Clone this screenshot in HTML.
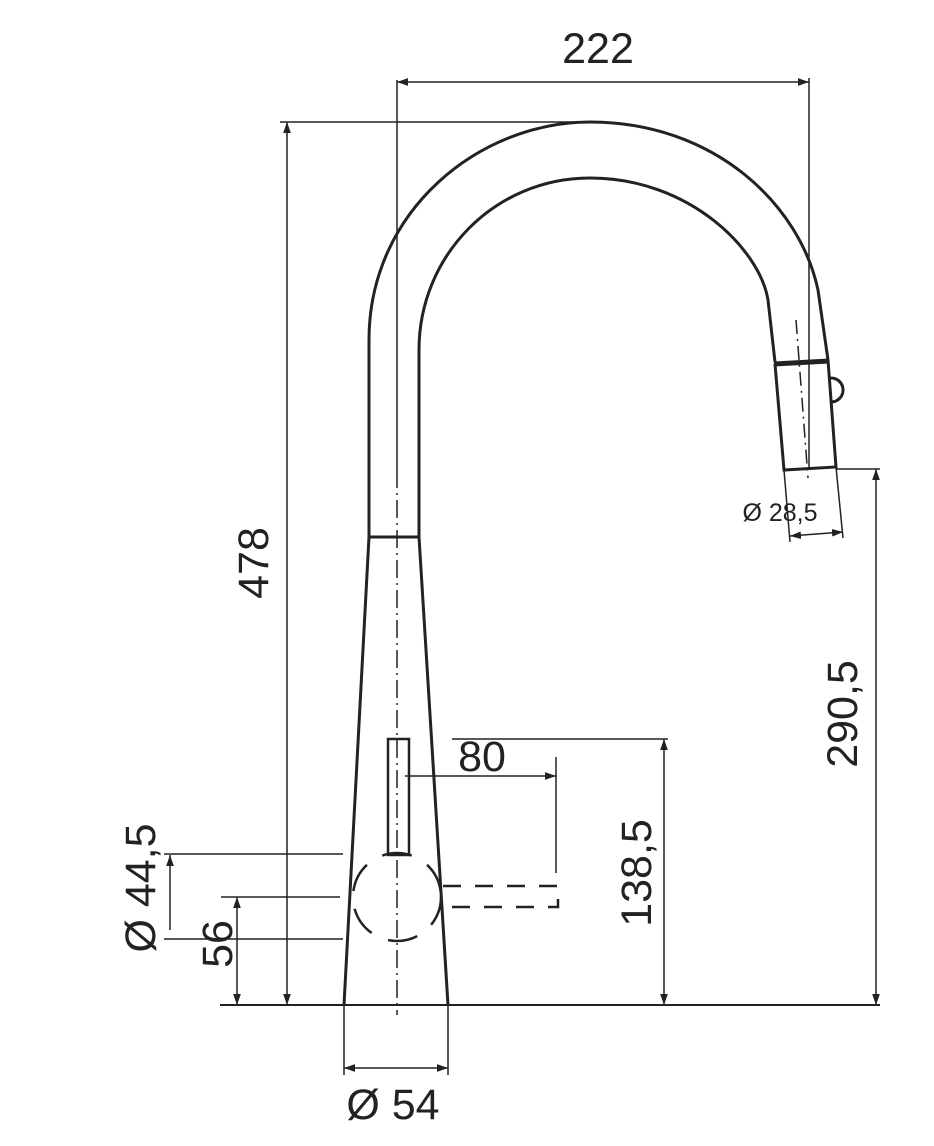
<!DOCTYPE html>
<html><head><style>
html,body{margin:0;padding:0;background:#fff;}
svg{display:block;}
text{font-family:"Liberation Sans",Arial,sans-serif;fill:#222;}
</style></head><body>
<svg width="934" height="1146" viewBox="0 0 934 1146" xmlns="http://www.w3.org/2000/svg">
<defs>
<marker id="a" viewBox="0 0 10 10" refX="10" refY="5" markerWidth="11" markerHeight="11" markerUnits="userSpaceOnUse" orient="auto-start-reverse"><path d="M0,1.5 L10,5 L0,8.5 z" fill="#222"/></marker>
</defs>
<g stroke="#222" fill="none">
<g stroke-width="3">
<path d="M344,1005 L369,537 L419,537 L448,1005"/>
<path d="M369,537 L369,340 C369,210 480,122 590,122 C715,122 800,205 818,290 L828,360"/>
<path d="M419,537 L419,350 C419,255 495,178 590,178 C690,178 760,250 768,300 L775,362"/>
<path d="M775,364 L784,470 L836,467 L828,360"/>
<path d="M830,378 A12,12 0 0 1 832,402"/>
</g>
<path d="M774,364 L829,361" stroke-width="5"/>
<path d="M220,1005 L880,1005" stroke-width="2"/>
<path d="M397,80 L397,470" stroke-width="1.5"/>
<path d="M397,470 L397,1015" stroke-width="1.5" stroke-dasharray="18,5,2,5"/>
<path d="M796,320 L808,478" stroke-width="1.5" stroke-dasharray="14,5,2,5"/>
<rect x="388" y="739" width="21" height="116" stroke-width="2.5"/>
<circle cx="397" cy="897" r="44" stroke-width="2.5" stroke-dasharray="30,18"/>
<path d="M443,886 L558,886 L558,907 L443,907" stroke-width="2.5" stroke-dasharray="18,14"/>
<g stroke-width="1.5">
<path d="M397,82 L809,82" marker-start="url(#a)" marker-end="url(#a)"/>
<path d="M809,78 L809,470"/>
<path d="M280,122 L590,122"/>
<path d="M287,122 L287,1005" marker-start="url(#a)" marker-end="url(#a)"/>
<path d="M836,469 L880,469"/>
<path d="M876,469 L876,1005" marker-start="url(#a)" marker-end="url(#a)"/>
<path d="M452,739 L668,739"/>
<path d="M664,739 L664,1005" marker-start="url(#a)" marker-end="url(#a)"/>
<path d="M405,776 L556,776" marker-end="url(#a)"/>
<path d="M556,757 L556,873"/>
<path d="M164,854 L343,854"/>
<path d="M164,939 L343,939"/>
<path d="M170,930 L170,855" marker-end="url(#a)"/>
<path d="M221,897 L340,897"/>
<path d="M237,897 L237,1005" marker-start="url(#a)" marker-end="url(#a)"/>
<path d="M344,1005 L344,1075"/>
<path d="M448,1005 L448,1075"/>
<path d="M344,1068 L448,1068" marker-start="url(#a)" marker-end="url(#a)"/>
<path d="M784,470 L790,542"/>
<path d="M836,467 L843,538"/>
<path d="M790,536 L843,532" marker-start="url(#a)" marker-end="url(#a)"/>
</g>
</g>
<text x="598" y="63" font-size="43" text-anchor="middle">222</text>
<text x="0" y="0" font-size="43" text-anchor="middle" transform="translate(268,563) rotate(-90)">478</text>
<text x="0" y="0" font-size="43" text-anchor="middle" transform="translate(857,714) rotate(-90)">290,5</text>
<text x="0" y="0" font-size="43" text-anchor="middle" transform="translate(651,873) rotate(-90)">138,5</text>
<text x="482" y="771" font-size="43" text-anchor="middle">80</text>
<text x="0" y="0" font-size="43" text-anchor="middle" transform="translate(155,888) rotate(-90)">Ø 44,5</text>
<text x="0" y="0" font-size="43" text-anchor="middle" transform="translate(232,944) rotate(-90)">56</text>
<text x="393" y="1119" font-size="43" text-anchor="middle">Ø 54</text>
<text x="780" y="521" font-size="25" text-anchor="middle">Ø 28,5</text>
</svg>
</body></html>
